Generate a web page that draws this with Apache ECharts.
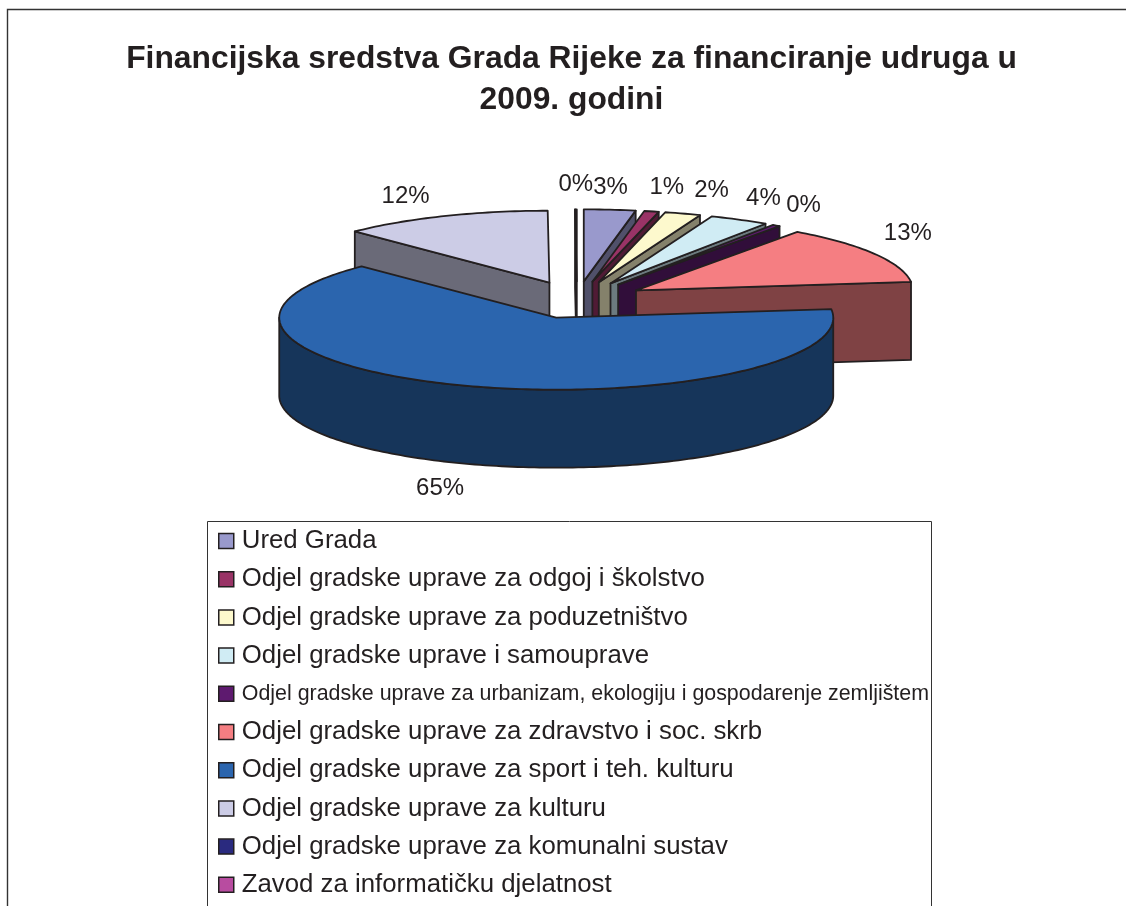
<!DOCTYPE html>
<html>
<head>
<meta charset="utf-8">
<style>html,body{margin:0;padding:0;background:#fff;overflow:hidden}</style>
<script src="https://cdn.jsdelivr.net/npm/echarts@6/dist/echarts.min.js"></script>
</head>
<body>
<div id="chart" style="width:1126px;height:906px"></div>
<script>
const categories = [
    'Ured Grada',
    'Odjel gradske uprave za odgoj i školstvo',
    'Odjel gradske uprave za poduzetništvo',
    'Odjel gradske uprave i samouprave',
    'Odjel gradske uprave za urbanizam, ekologiju i gospodarenje zemljištem',
    'Odjel gradske uprave za zdravstvo i soc. skrb',
    'Odjel gradske uprave za sport i teh. kulturu',
    'Odjel gradske uprave za kulturu',
    'Odjel gradske uprave za komunalni sustav',
    'Zavod za informatičku djelatnost'
];
const shares = [3.0, 0.85, 2.1, 3.5, 0.45, 13.2, 64.5, 12.3, 0.1, 0];
const colors = ['#9999cc', '#993366', '#fdf9cd', '#d0ecf4', '#5e1a6f', '#f57e82', '#2b65ae', '#cccce6', '#2a2a7f', '#b84ca0'];

// pseudo 3D pie, echarts has no tilted pie so it is done with custom series
const CX = 577, CY = 300, RX = 277, RY = 72, DEPTH = 78, EXPLODE = 0.26;
const INK = '#231f20';
const FONT = '"Liberation Sans", Arial, sans-serif';
// paint order, back to front
const zOrder = [1, 2, 3, 4, 5, 6, 8, 7, 0, 0];
// the original has some perspective, these shift whole slices sideways
const sliceNudge = [0, 0, 0, 0, 0, -3, 3, 0, 0, 0];
// small shifts of the data labels, excel placed them by hand
const labelNudge = [[-3, 2], [7, 0], [17, 0], [6, 0], [5, 0], [-3, -8], [-9, 2], [-23, 3], [0, 0], [0, 0]];

const total = shares.reduce((a, b) => a + b, 0);
const starts = [];
shares.reduce((acc, v, i) => { starts[i] = acc; return acc + v; }, 0);

function toRad(share) {
    return share / total * Math.PI * 2;
}

function darken(hex, k) {
    const n = parseInt(hex.slice(1), 16);
    const c = [n >> 16 & 255, n >> 8 & 255, n & 255].map(v => Math.round(v * k));
    return 'rgb(' + c.join(',') + ')';
}

function rimPoint(o, a, dy) {
    return [o[0] + RX * Math.sin(a), o[1] - RY * Math.cos(a) + (dy || 0)];
}

function arc(o, a0, a1, dy) {
    const pts = [];
    const n = Math.max(2, Math.ceil(Math.abs(a1 - a0) / 0.02));
    for (let i = 0; i <= n; i++) {
        pts.push(rimPoint(o, a0 + (a1 - a0) * i / n, dy));
    }
    return pts;
}

function poly(points, fill) {
    return {
        type: 'polygon',
        shape: { points: points },
        style: { fill: fill, stroke: INK, lineWidth: 1.8, lineJoin: 'round' }
    };
}

function renderSlice(idx, api) {
    const value = api.value(0);
    const children = [];
    const a0 = toRad(starts[idx]);
    const a1 = toRad(starts[idx] + value);
    const mid = (a0 + a1) / 2;
    const o = [CX + EXPLODE * RX * Math.sin(mid) + sliceNudge[idx], CY - EXPLODE * RY * Math.cos(mid)];
    const oLow = [o[0], o[1] + DEPTH];
    const side = darken(colors[idx], 0.52);

    if (value > 0) {
        // cut faces that look towards the viewer
        if (Math.sin(a1) > 0 && a1 < Math.PI) {
            children.push(poly([o, rimPoint(o, a1), rimPoint(o, a1, DEPTH), oLow], side));
        }
        if (a0 > Math.PI) {
            children.push(poly([o, rimPoint(o, a0), rimPoint(o, a0, DEPTH), oLow], side));
        }
        // outer wall, only the front half of the ring shows
        const w0 = Math.max(a0, Math.PI / 2), w1 = Math.min(a1, Math.PI * 1.5);
        if (w1 > w0) {
            children.push(poly(arc(o, w0, w1).concat(arc(o, w1, w0, DEPTH)), side));
        }
        children.push(poly([o].concat(arc(o, a0, a1)), colors[idx]));

        const kx = 1.4, ky = 1.6;
        const nudge = labelNudge[idx];
        children.push({
            type: 'text',
            z2: 10,
            style: {
                text: Math.round(value / total * 100) + '%',
                x: CX + kx * RX * Math.sin(mid) + nudge[0],
                y: CY - ky * RY * Math.cos(mid) + (Math.cos(mid) < 0 ? DEPTH : 0) + nudge[1],
                align: 'center',
                verticalAlign: 'middle',
                font: '24px ' + FONT,
                fill: INK
            }
        });
    }
    return { type: 'group', children: children };
}

const chart = echarts.init(document.getElementById('chart'));

const option = {
    backgroundColor: '#ffffff',
    animation: false,
    color: colors,
    title: {
        text: 'Financijska sredstva Grada Rijeke za financiranje udruga u\n2009. godini',
        left: 566.5,
        top: 34,
        textAlign: 'center',
        textStyle: { fontFamily: FONT, fontSize: 31.8, fontWeight: 'bold', color: INK, lineHeight: 41 }
    },
    legend: {
        orient: 'vertical',
        left: 218,
        top: 527,
        height: 600,
        padding: 0,
        icon: 'rect',
        itemWidth: 15,
        itemHeight: 15,
        itemGap: 10.2,
        selectedMode: false,
        itemStyle: { borderColor: INK, borderWidth: 1.5 },
        textStyle: { fontFamily: FONT, fontSize: 25.8, color: INK, lineHeight: 28, padding: [0, 0, 0, 3] },
        data: categories.map((name, i) => i === 4
            ? { name: name, textStyle: { fontFamily: FONT, fontSize: 21.4, color: INK, lineHeight: 28, padding: [0, 0, 0, 3] } }
            : { name: name })
    },
    graphic: [
        { type: 'rect', z: -1, shape: { x: 7.5, y: 9.5, width: 1300, height: 1200 }, style: { fill: '#fff', stroke: '#333', lineWidth: 1.4 } },
        { type: 'rect', z: -1, shape: { x: 207.5, y: 521.5, width: 724, height: 600 }, style: { fill: '#fff', stroke: '#333', lineWidth: 1 } }
    ],
    series: categories.map((name, i) => ({
        name: name,
        type: 'custom',
        coordinateSystem: 'none',
        z: 2 + zOrder[i],
        silent: true,
        itemStyle: { color: colors[i] },
        renderItem: (params, api) => renderSlice(i, api),
        data: [[shares[i]]]
    }))
};

chart.setOption(option);
</script>
</body>
</html>
